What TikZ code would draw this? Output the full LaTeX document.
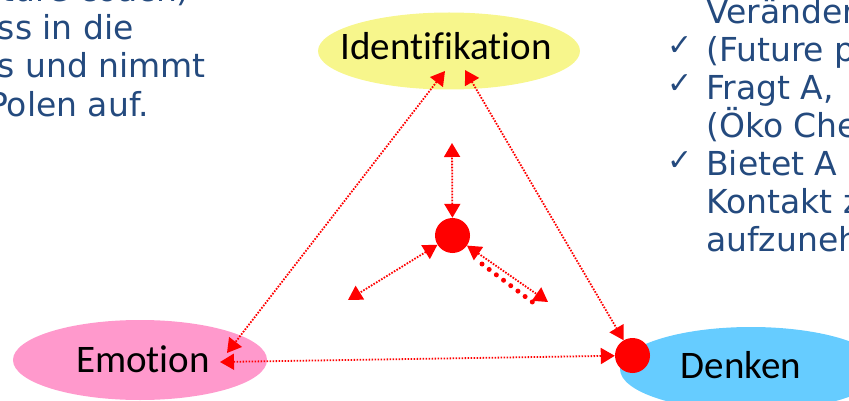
\documentclass[tikz,border=0pt]{standalone}
\usepackage{fontspec}
\setmainfont{Carlito}[Ligatures=NoCommon]
\newfontfamily\bluefont{DejaVu Sans}[Ligatures=NoCommon]
\newfontfamily\symfont{DejaVu Sans}
\usetikzlibrary{arrows.meta,shapes.geometric}
\definecolor{txtblue}{RGB}{36,74,126}
\definecolor{idyellow}{RGB}{247,246,140}
\definecolor{empink}{RGB}{255,153,204}
\definecolor{denblue}{RGB}{102,204,255}
\definecolor{arred}{RGB}{255,0,0}
\tikzset{
  bigtxt/.style={font=\fontsize{39}{47}\selectfont, text=black, inner sep=0pt},
  bluetxt/.style={font=\bluefont\fontsize{33}{40}\selectfont, text=txtblue, inner sep=0pt},
  chk/.style={font=\symfont\fontsize{30}{34}\selectfont, text=txtblue, inner sep=0pt},
  bubble/.style={ellipse, draw=none, inner sep=0pt},
  reddot/.style={circle, fill=arred, draw=none, minimum size=35pt, inner sep=0pt},
  dotarr/.style={draw=arred, line width=1.8pt, dash pattern=on 1.6pt off 1.4pt,
    {Triangle[length=14pt,width=16pt]}-{Triangle[length=14pt,width=16pt]}},
  bigdots/.style={draw=arred, line width=5pt, line cap=round, dash pattern=on 0pt off 9pt},
}
\begin{document}
\begin{tikzpicture}[x=1pt,y=-1pt]
\useasboundingbox (0,0) rectangle (849,401);
\clip (0,0) rectangle (849,401);

% bubbles
\node[bubble, fill=idyellow, minimum width=262pt, minimum height=77pt] (ident) at (449,51) {};
\node[bubble, fill=empink, minimum width=254pt, minimum height=80pt] (emo) at (140,360) {};
\node[bubble, fill=denblue, minimum width=262pt, minimum height=84pt] (den) at (751,369) {};

\node[bigtxt, anchor=base] (identtxt) at (446,60) {Identifikation};
\node[bigtxt, anchor=base] (emotxt) at (143,372) {Emotion};
\node[bigtxt, anchor=base] (dentxt) at (741,378) {Denken};

% red dots
\node[reddot] (hub) at (452.5,235.5) {};
\node[reddot] (dc) at (632.5,355.5) {};

% endpoints
\coordinate (idL) at (445,71);
\coordinate (idR) at (465,70);
\coordinate (emoR) at (227,353);
\coordinate (emoE) at (220,362);
\coordinate (upEnd) at (452,143);
\coordinate (llEnd) at (348,300);
\coordinate (lrEnd) at (548,302);
\coordinate (bdS) at (482,264);
\coordinate (bdE) at (535,304);

% connectors
\draw[dotarr] (idL) -- (emoR);
\draw[dotarr] (idR) -- (dc);
\draw[dotarr] (emoE) -- (dc);
\draw[dotarr] (hub) -- (upEnd);
\draw[dotarr] (hub) -- (llEnd);
\draw[dotarr] (hub) -- (lrEnd);
\draw[bigdots] (bdS) -- (bdE);

% left text (cut off)
\node[bluetxt, anchor=base east] (l0) at (190,2) {ature coach)};
\node[bluetxt, anchor=base east] (l1) at (134,39.5) {ass in die};
\node[bluetxt, anchor=base east] (l2) at (206,78) {s und nimmt};
\node[bluetxt, anchor=base east] (l3) at (149,116.5) {Polen auf.};

% right text (cut off)
\node[bluetxt, anchor=base west] (r0) at (706,23.5) {Veränder};
\node[chk] (c1) at (680,46) {✓};
\node[bluetxt, anchor=base west] (r1) at (706,61.5) {(Future p};
\node[chk] (c2) at (680,84) {✓};
\node[bluetxt, anchor=base west] (r2) at (706,99.5) {Fragt A,};
\node[bluetxt, anchor=base west] (r3) at (706,137.5) {(Öko Che};
\node[chk] (c3) at (680,161) {✓};
\node[bluetxt, anchor=base west] (r4) at (706,175.5) {Bietet A};
\node[bluetxt, anchor=base west] (r5) at (706,213.5) {Kontakt z};
\node[bluetxt, anchor=base west] (r6) at (706,251.5) {aufzuneh};
\end{tikzpicture}
\end{document}
